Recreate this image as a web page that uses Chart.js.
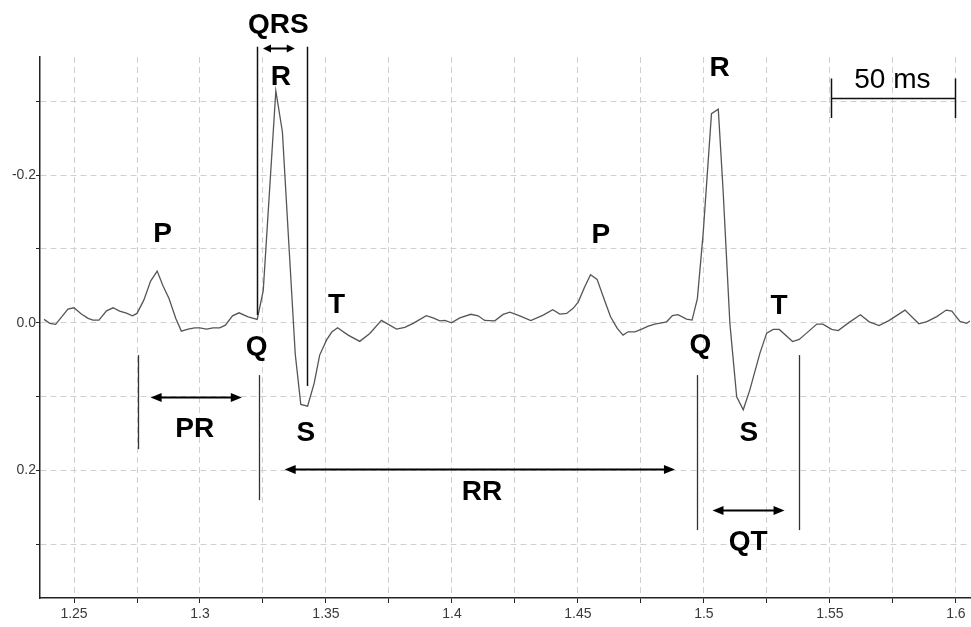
<!DOCTYPE html>
<html>
<head>
<meta charset="utf-8">
<title>ECG intervals</title>
<script src="https://cdn.jsdelivr.net/npm/chart.js@4.4.0/dist/chart.umd.min.js"></script>
<style>
  html, body { margin: 0; padding: 0; background: #fff; }
</style>
</head>
<body>
<canvas id="ecgChart" width="971" height="627"></canvas>
<script>
// sample times (s)
const times = [
    1.2381, 1.2404, 1.2427, 1.2476, 1.2500, 1.2529, 1.2556, 1.2575, 1.2599, 1.2629,
    1.2655, 1.2681, 1.2708, 1.2732, 1.2750, 1.2777, 1.2804, 1.2830, 1.2853, 1.2877,
    1.2904, 1.2926, 1.2953, 1.2979, 1.2999, 1.3026, 1.3052, 1.3078, 1.3101, 1.3129,
    1.3155, 1.3191, 1.3227, 1.3251, 1.3301, 1.3327, 1.3354, 1.3378, 1.3400, 1.3427,
    1.3453, 1.3475, 1.3502, 1.3523, 1.3546, 1.3588, 1.3634, 1.3674, 1.3720, 1.3780,
    1.3813, 1.3846, 1.3898, 1.3925, 1.3952, 1.3972, 1.3998, 1.4031, 1.4075, 1.4104,
    1.4130, 1.4170, 1.4203, 1.4230, 1.4269, 1.4313, 1.4362, 1.4400, 1.4428, 1.4455,
    1.4481, 1.4501, 1.4527, 1.4550, 1.4576, 1.4603, 1.4629, 1.4656, 1.4679, 1.4699,
    1.4726, 1.4753, 1.4779, 1.4805, 1.4832, 1.4852, 1.4875, 1.4897, 1.4931, 1.4953,
    1.4974, 1.4997, 1.5030, 1.5057, 1.5076, 1.5103, 1.5130, 1.5156, 1.5182, 1.5222,
    1.5249, 1.5275, 1.5299, 1.5352, 1.5378, 1.5405, 1.5448, 1.5472, 1.5507, 1.5533,
    1.5575, 1.5621, 1.5656, 1.5695, 1.5734, 1.5798, 1.5853, 1.5885, 1.5924, 1.5962,
    1.5984, 1.6016, 1.6043, 1.6056
];

// signal values (axis drawn inverted: negative is up)
const voltages = [
    -0.0045, 0.0009, 0.0023, -0.0184, -0.0202, -0.0117, -0.0058, -0.0035, -0.0035, -0.0161,
    -0.0202, -0.0157, -0.0130, -0.0093, -0.0126, -0.0306, -0.0564, -0.0699, -0.0500, -0.0329,
    -0.0058, 0.0114, 0.0087, 0.0069, 0.0069, 0.0087, 0.0069, 0.0069, 0.0033, -0.0093,
    -0.0134, -0.0080, -0.0045, -0.0435, -0.3142, -0.2587, -0.0984, 0.0425, 0.1107, 0.1130,
    0.0822, 0.0439, 0.0236, 0.0127, 0.0069, 0.0168, 0.0253, 0.0145, -0.0031, 0.0087,
    0.0064, 0.0009, -0.0096, -0.0066, -0.0026, -0.0031, 0.0001, -0.0066, -0.0114, -0.0093,
    -0.0031, -0.0026, -0.0112, -0.0144, -0.0093, -0.0028, -0.0103, -0.0175, -0.0117, -0.0126,
    -0.0194, -0.0279, -0.0486, -0.0649, -0.0587, -0.0329, -0.0083, 0.0077, 0.0168, 0.0123,
    0.0123, 0.0087, 0.0046, 0.0019, 0.0001, -0.0012, -0.0096, -0.0110, -0.0049, -0.0035,
    -0.0327, -0.1210, -0.2833, -0.2894, -0.1797, 0.0009, 0.1004, 0.1180, 0.0913, 0.0416,
    0.0141, 0.0091, 0.0091, 0.0256, 0.0226, 0.0148, 0.0019, 0.0019, 0.0091, 0.0107,
    -0.0001, -0.0107, -0.0012, 0.0039, -0.0028, -0.0171, 0.0015, -0.0015, -0.0083, -0.0171,
    -0.0157, -0.0018, 0.0009, -0.0022
];

const xTickValues = [1.25, 1.275, 1.3, 1.325, 1.35, 1.375, 1.4, 1.425, 1.45, 1.475, 1.5, 1.525, 1.55, 1.575, 1.6];
const xTickLabels = ["1.25", "", "1.3", "", "1.35", "", "1.4", "", "1.45", "", "1.5", "", "1.55", "", "1.6"];
const yTickValues = [-0.3, -0.2, -0.1, 0, 0.1, 0.2, 0.3];
const yTickLabels = ["", "-0.2", "", "0.0", "", "0.2", ""];

const X_MIN = 1.2365, X_MAX = 1.6056;
const Y_MIN = -0.360, Y_MAX = 0.373;

// wave labels: text, time, value at baseline
const waveLabels = [
    ["QRS", 1.3311, -0.3924],
    ["R", 1.3321, -0.3219],
    ["P", 1.2852, -0.1092],
    ["T", 1.3542, -0.0130],
    ["Q", 1.3225, 0.0439],
    ["S", 1.3420, 0.1604],
    ["PR", 1.2979, 0.1550],
    ["RR", 1.4119, 0.2404],
    ["P", 1.4591, -0.1079],
    ["R", 1.5062, -0.3341],
    ["T", 1.5298, -0.0117],
    ["Q", 1.4986, 0.0412],
    ["S", 1.5178, 0.1604],
    ["QT", 1.5176, 0.3081]
];

// marker lines: time, from value, to value
const markerLines = [
    [1.3225, -0.3739, -0.0103],
    [1.3424, -0.3739, 0.0859],
    [1.2752, 0.0439, 0.1713],
    [1.3234, 0.0710, 0.2404],
    [1.4974, 0.0710, 0.2810],
    [1.5377, 0.0439, 0.2810]
];

// double arrows: from time, to time, value
const intervalArrows = [
    [1.3250, 1.3376, -0.3725],
    [1.2804, 1.3166, 0.1004],
    [1.3336, 1.4885, 0.1984],
    [1.5034, 1.5320, 0.2539]
];

// scale bar
const scaleBar = { from: 1.5505, to: 1.5998, value: -0.3039, tickTop: -0.3310, tickBottom: -0.2772, text: "50 ms", textX: 1.5748, textY: -0.3179 };

const ctx = document.getElementById("ecgChart");

function drawArrow(c, x1, x2, y, head, half) {
    c.beginPath();
    c.moveTo(x1 + head * 0.6, y);
    c.lineTo(x2 - head * 0.6, y);
    c.stroke();
    c.beginPath();
    c.moveTo(x1, y);
    c.lineTo(x1 + head, y - half);
    c.lineTo(x1 + head, y + half);
    c.closePath();
    c.fill();
    c.beginPath();
    c.moveTo(x2, y);
    c.lineTo(x2 - head, y - half);
    c.lineTo(x2 - head, y + half);
    c.closePath();
    c.fill();
}

const annotationPlugin = {
    id: "ecgAnnotations",
    afterDatasetsDraw(chart) {
        const c = chart.ctx;
        const xs = chart.scales.x;
        const ys = chart.scales.y;
        c.save();

        // vertical markers
        markerLines.forEach((m, i) => {
            c.strokeStyle = i < 2 ? "#111" : "#333";
            c.lineWidth = i < 2 ? 1.5 : 1.3;
            const x = Math.round(xs.getPixelForValue(m[0])) + 0.5;
            c.beginPath();
            c.moveTo(x, ys.getPixelForValue(m[1]));
            c.lineTo(x, ys.getPixelForValue(m[2]));
            c.stroke();
        });

        // arrows
        c.strokeStyle = "#000";
        c.fillStyle = "#000";
        intervalArrows.forEach((a, i) => {
            const small = i === 0;
            c.lineWidth = 2;
            drawArrow(c, xs.getPixelForValue(a[0]), xs.getPixelForValue(a[1]),
                Math.round(ys.getPixelForValue(a[2])) + 0.5, small ? 8 : 11, small ? 4 : 4.5);
        });

        // scale bar
        c.lineWidth = 1.5;
        c.strokeStyle = "#111";
        const bx1 = Math.round(xs.getPixelForValue(scaleBar.from)) + 0.5;
        const bx2 = Math.round(xs.getPixelForValue(scaleBar.to)) + 0.5;
        const by = Math.round(ys.getPixelForValue(scaleBar.value)) + 0.5;
        c.beginPath();
        c.moveTo(bx1, by);
        c.lineTo(bx2, by);
        c.moveTo(bx1, ys.getPixelForValue(scaleBar.tickTop));
        c.lineTo(bx1, ys.getPixelForValue(scaleBar.tickBottom));
        c.moveTo(bx2, ys.getPixelForValue(scaleBar.tickTop));
        c.lineTo(bx2, ys.getPixelForValue(scaleBar.tickBottom));
        c.stroke();

        c.textAlign = "center";
        c.textBaseline = "alphabetic";
        c.fillStyle = "#000";
        c.font = '28px "Liberation Sans", Arial, sans-serif';
        c.fillText(scaleBar.text, xs.getPixelForValue(scaleBar.textX), ys.getPixelForValue(scaleBar.textY));

        c.font = 'bold 28px "Liberation Sans", Arial, sans-serif';
        waveLabels.forEach(l => {
            c.fillText(l[0], xs.getPixelForValue(l[1]), ys.getPixelForValue(l[2]));
        });

        c.restore();
    }
};

const tickFont = { family: '"Liberation Sans", Arial, sans-serif', size: 14 };

new Chart(ctx, {
    type: "line",
    data: {
        datasets: [{
            data: times.map((t, i) => ({ x: t, y: voltages[i] })),
            borderColor: "#555",
            borderWidth: 1.3,
            pointRadius: 0,
            tension: 0,
            fill: false
        }]
    },
    options: {
        responsive: false,
        animation: false,
        layout: { padding: { top: 57, right: 1, left: 0, bottom: 0 } },
        plugins: {
            legend: { display: false },
            tooltip: { enabled: false }
        },
        scales: {
            x: {
                type: "linear",
                min: X_MIN,
                max: X_MAX,
                afterBuildTicks: axis => { axis.ticks = xTickValues.map(v => ({ value: v })); },
                afterFit: axis => { axis.height = 29; },
                ticks: {
                    autoSkip: false,
                    maxRotation: 0,
                    padding: 3,
                    color: "#3a3a3a",
                    font: tickFont,
                    callback: (v, i) => xTickLabels[i]
                },
                grid: { color: "#d0d0d0", lineWidth: 1, tickColor: "#222", tickLength: 5 },
                border: { color: "#222", width: 1.5, dash: [6, 4] }
            },
            y: {
                type: "linear",
                reverse: true,
                min: Y_MIN,
                max: Y_MAX,
                afterBuildTicks: axis => { axis.ticks = yTickValues.map(v => ({ value: v })); },
                afterFit: axis => { axis.width = 40; },
                ticks: {
                    autoSkip: false,
                    padding: 0,
                    color: "#3a3a3a",
                    font: tickFont,
                    callback: (v, i) => yTickLabels[i]
                },
                grid: { color: "#d0d0d0", lineWidth: 1, tickColor: "#222", tickLength: 4 },
                border: { color: "#222", width: 1.5, dash: [6, 4] }
            }
        }
    },
    plugins: [annotationPlugin]
});
</script>
</body>
</html>
